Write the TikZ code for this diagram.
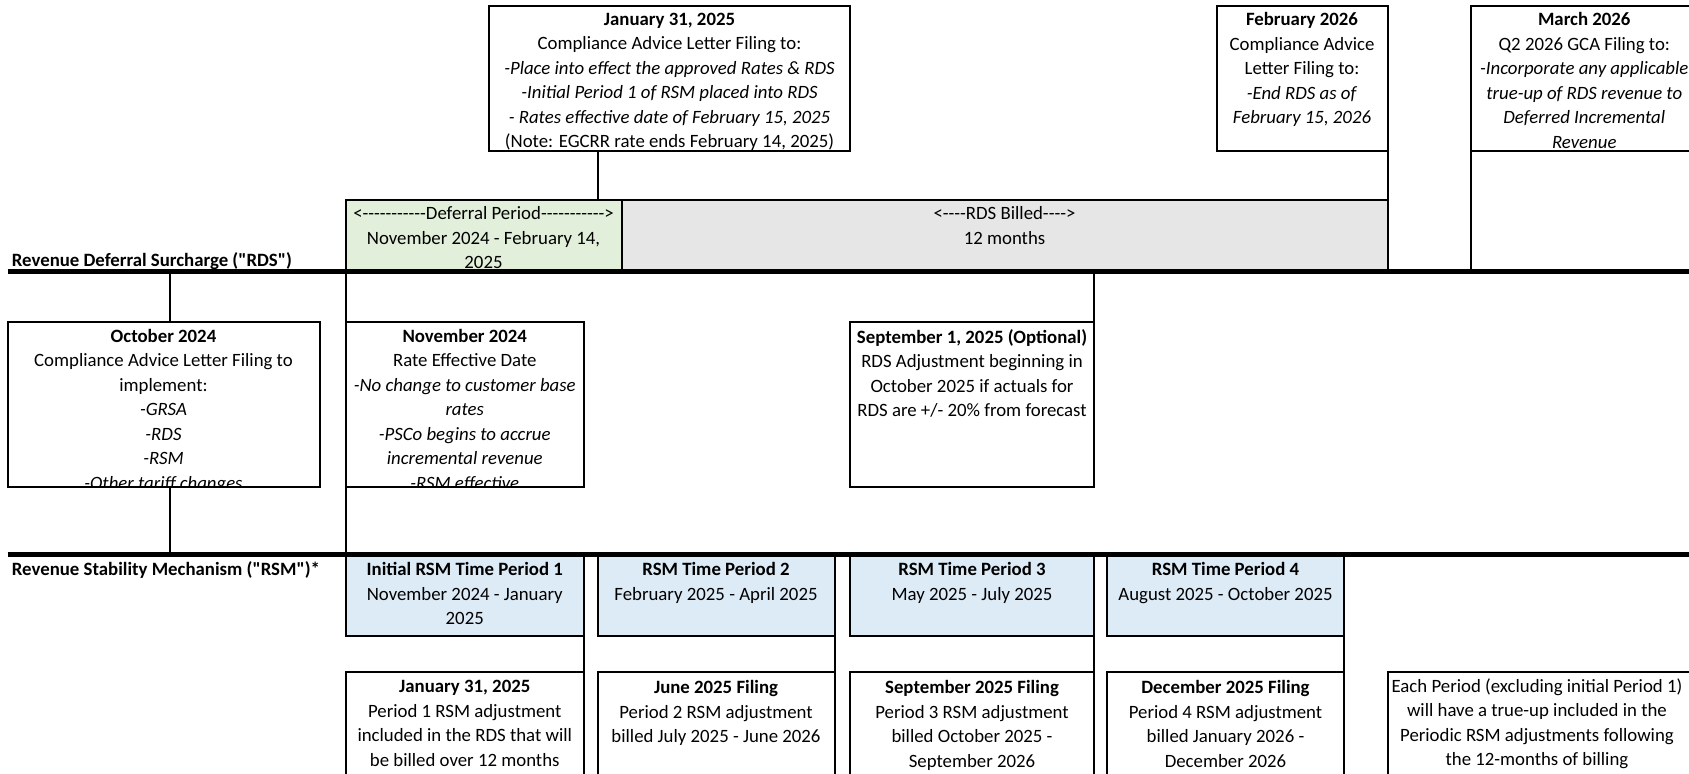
\documentclass[tikz,border=0pt]{standalone}
\usepackage{fontspec}
\setmainfont{Carlito}[Ligatures=TeXOff]
\usetikzlibrary{positioning,fit}
\definecolor{defergreen}{HTML}{E2EFDA}
\definecolor{billgrey}{HTML}{E6E6E6}
\definecolor{rsmblue}{HTML}{DDEBF7}
\newcommand{\xl}{\fontsize{9.4}{12.25}\selectfont}

\begin{document}
\begin{tikzpicture}[x=0.5pt, y=-0.5pt,
    frame/.style={draw, line width=1pt, inner sep=0pt, outer sep=0pt},
    txt/.style={align=center, inner sep=0pt, font=\xl, execute at begin node=\strut},
    lbl/.style={font=\xl\bfseries, inner sep=0pt, anchor=base west},
    axis/.style={line width=2.2pt},
    link/.style={line width=1pt}]
  \useasboundingbox (0,0) rectangle (1689,773);

  % RDS row
  \node[frame, fit={(489,5.5) (850,151)}] (jantop) {};
  \node[txt, below=3.5pt of jantop.north] (jantoptxt) {\textbf{January 31, 2025}\\Compliance Advice Letter Filing to:\\
    \textit{-Place into effect the approved Rates \& RDS}\\\textit{-Initial Period 1 of RSM placed into RDS}\\
    \textit{- Rates effective date of February 15, 2025}\\(Note: EGCRR rate ends February 14, 2025)};
  \node[frame, fit={(1216.5,5.5) (1387.5,151)}] (febtop) {};
  \node[txt, below=3.3pt of febtop.north] (febtoptxt) {\textbf{February 2026}\\Compliance Advice\\Letter Filing to:\\
    \textit{-End RDS as of}\\\textit{February 15, 2026}};
  \node[frame, fit={(1470.5,5.5) (1698,151)}] (martop) {};
  \node[txt, below=3.3pt of martop.north] (martoptxt) {\textbf{March 2026}\\Q2 2026 GCA Filing to:\\
    \textit{-Incorporate any applicable}\\\textit{true-up of RDS revenue to}\\\textit{Deferred Incremental}\\\textit{Revenue}};
  \node[frame, fill=defergreen, fit={(345.5,200) (621.5,271.5)}] (defer) {};
  \node[txt, below=3.1pt of defer.north] (defertxt) {<-----------Deferral Period----------->\\November 2024 - February 14,\\2025};
  \node[frame, fill=billgrey, fit={(621.5,200) (1387.5,271.5)}] (billed) {};
  \node[txt, below=3.1pt of billed.north] (billedtxt) {<----RDS Billed---->\\12 months};

  % middle row
  \node[frame, fit={(7.5,321.5) (319.5,486.5)}] (oct) {};
  \begin{scope}
    \clip ([yshift=0.5pt]oct.south west) rectangle (oct.north east);
    \node[txt, below=3.6pt of oct.north] (octtxt) {\textbf{October 2024}\\Compliance Advice Letter Filing to\\implement:\\
      \textit{-GRSA}\\\textit{-RDS}\\\textit{-RSM}\\\textit{-Other tariff changes}};
  \end{scope}
  \node[frame, fit={(345.5,321.5) (584,486.5)}] (nov) {};
  \begin{scope}
    \clip ([yshift=0.5pt]nov.south west) rectangle (nov.north east);
    \node[txt, below=3.6pt of nov.north] (novtxt) {\textbf{November 2024}\\Rate Effective Date\\\textit{-No change to customer base}\\
      \textit{rates}\\\textit{-PSCo begins to accrue}\\\textit{incremental revenue}\\\textit{-RSM effective}};
  \end{scope}
  \node[frame, fit={(850,321.5) (1094,486.5)}] (sep) {};
  \node[txt, below=3.6pt of sep.north] (septxt) {\textbf{September 1, 2025 (Optional)}\\RDS Adjustment beginning in\\
    October 2025 if actuals for\\RDS are +/- 20\% from forecast};

  % RSM row
  \node[frame, fill=rsmblue, fit={(345.5,554.5) (584,636)}] (p1) {};
  \node[txt, below=3.9pt of p1.north] {\textbf{Initial RSM Time Period 1}\\November 2024 - January\\2025};
  \node[frame, fill=rsmblue, fit={(597.5,554.5) (834.5,636)}] (p2) {};
  \node[txt, below=3.9pt of p2.north] {\textbf{RSM Time Period 2}\\February 2025 - April 2025};
  \node[frame, fill=rsmblue, fit={(850,554.5) (1094,636)}] (p3) {};
  \node[txt, below=3.9pt of p3.north] {\textbf{RSM Time Period 3}\\May 2025 - July 2025};
  \node[frame, fill=rsmblue, fit={(1107,554.5) (1344,636)}] (p4) {};
  \node[txt, below=3.9pt of p4.north] {\textbf{RSM Time Period 4}\\August 2025 - October 2025};

  \node[frame, fit={(345.5,672) (584,790)}] (f1) {};
  \node[txt, below=4.1pt of f1.north] {\textbf{January 31, 2025}\\Period 1 RSM adjustment\\included in the RDS that will\\be billed over 12 months};
  \node[frame, fit={(597.5,672) (834.5,790)}] (f2) {};
  \node[txt, below=4.1pt of f2.north] {\textbf{June 2025 Filing}\\Period 2 RSM adjustment\\billed July 2025 - June 2026};
  \node[frame, fit={(850,672) (1094,790)}] (f3) {};
  \node[txt, below=4.1pt of f3.north] {\textbf{September 2025 Filing}\\Period 3 RSM adjustment\\billed October 2025 -\\September 2026};
  \node[frame, fit={(1107,672) (1344,790)}] (f4) {};
  \node[txt, below=4.1pt of f4.north] {\textbf{December 2025 Filing}\\Period 4 RSM adjustment\\billed January 2026 -\\December 2026};
  \node[frame, fit={(1387.5,672) (1700,790)}] (note) {};
  \node[txt, below=3.0pt of note.north, xshift=-3.4pt] (notetxt) {Each Period (excluding initial Period 1)\\will have a true-up included in the\\
    Periodic RSM adjustments following\\the 12-months of billing};

  % timelines
  \coordinate (rdsL) at (7.5,271.5);
  \coordinate (rdsR) at (1700,271.5);
  \coordinate (rsmL) at (7.5,554.5);
  \coordinate (rsmR) at (1700,554.5);
  \coordinate (jantap) at (598,151);
  \coordinate (octtap) at (170,321.5);
  \draw[link] (jantap) -- (jantap |- defer.north);
  \draw[link] (febtop.south east) -- (billed.north east);
  \draw[link] (martop.south west) -- (martop.south west |- rdsL);
  \draw[link] (octtap |- rdsL) -- (octtap);
  \draw[link] (octtap |- oct.south) -- (octtap |- rsmL);
  \draw[link] (nov.north west |- rdsL) -- (nov.south west |- rsmL);
  \draw[link] (sep.north east) -- (sep.north east |- rdsL);
  \foreach \i in {1,...,4}
    \draw[link] (p\i.south east) -- (f\i.north east);
  \draw[axis] (rdsL) -- (rdsR);
  \draw[axis] (rsmL) -- (rsmR);
  \node[lbl] (rdslbl) at (11.5,266) {Revenue Deferral Surcharge ("RDS")};
  \node[lbl] (rsmlbl) at (11.5,575) {Revenue Stability Mechanism ("RSM")*};
\end{tikzpicture}
\end{document}
